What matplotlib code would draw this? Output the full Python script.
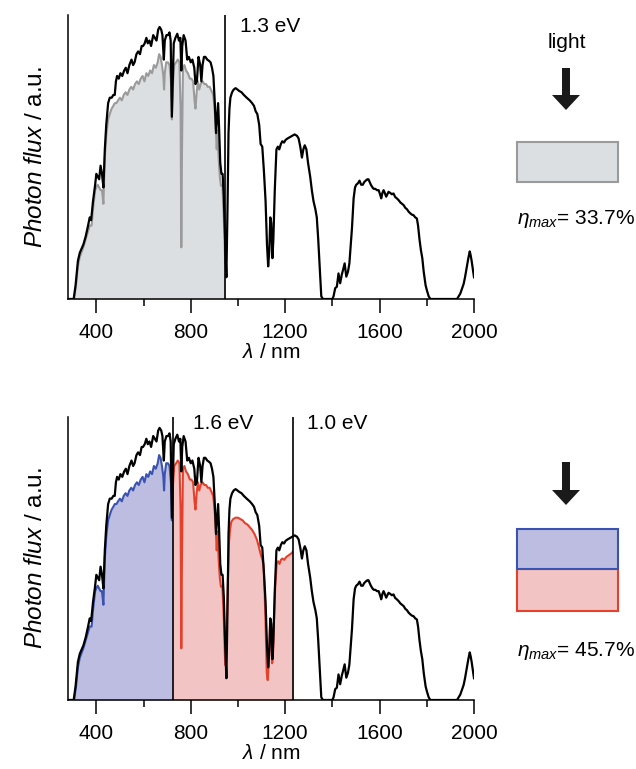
import numpy as np
import matplotlib
matplotlib.use("Agg")
import matplotlib.pyplot as plt
from matplotlib.patches import Rectangle, FancyArrow

plt.rcParams['font.family'] = ['Liberation Sans', 'DejaVu Sans']
plt.rcParams['mathtext.fontset'] = 'custom'
plt.rcParams['mathtext.it'] = 'Liberation Sans:italic'
plt.rcParams['mathtext.rm'] = 'Liberation Sans'

# black: incident photon flux (normalised)
bk_wl = [280, 304, 312, 322, 330, 345, 355, 365, 372, 378, 386, 395, 400, 406, 412, 418, 424, 430,
         436, 442, 450, 457, 465, 472, 478, 483, 488, 495, 502, 510, 518, 525, 532, 540, 549, 556,
         562, 570, 577, 585, 592, 598, 605, 612, 618, 625, 632, 641, 648, 655, 662, 668, 675, 680,
         686, 690, 697, 704, 710, 715, 720, 724, 728, 735, 743, 750, 756, 760, 764, 770, 778, 785,
         792, 800, 807, 815, 820, 826, 833, 840, 845, 850, 856, 862, 870, 878, 884, 890, 896, 902,
         907, 911, 916, 920, 925, 930, 935, 940, 946, 951, 956, 960, 964, 968, 975, 982, 990, 998,
         1005, 1015, 1025, 1037, 1050, 1060, 1068, 1075, 1082, 1090, 1096, 1103, 1110, 1117, 1123,
         1128, 1133, 1137, 1141, 1146, 1150, 1156, 1163, 1169, 1175, 1182, 1188, 1195, 1202, 1210,
         1220, 1230, 1240, 1250, 1257, 1264, 1271, 1277, 1283, 1290, 1297, 1306, 1313, 1320, 1328,
         1334, 1340, 1346, 1353, 1360, 1400, 1405, 1412, 1419, 1426, 1433, 1440, 1445, 1452, 1459,
         1466, 1472, 1478, 1483, 1490, 1496, 1501, 1508, 1515, 1522, 1529, 1535, 1541, 1548, 1553,
         1558, 1563, 1570, 1575, 1582, 1589, 1596, 1602, 1607, 1612, 1617, 1622, 1628, 1633, 1638,
         1645, 1652, 1659, 1666, 1673, 1681, 1688, 1695, 1702, 1709, 1716, 1723, 1730, 1737, 1744,
         1751, 1758, 1763, 1769, 1775, 1781, 1787, 1795, 1801, 1808, 1815, 1928, 1942, 1950, 1956,
         1962, 1970, 1976, 1982, 1986, 1990, 1995, 2000]
bk_val = [0, 0, 0.05, 0.14, 0.17, 0.20, 0.23, 0.27, 0.30, 0.29, 0.36, 0.42, 0.46, 0.45, 0.44, 0.49, 0.46, 0.41,
          0.55, 0.64, 0.72, 0.74, 0.74, 0.75, 0.75, 0.80, 0.82, 0.81, 0.83, 0.82, 0.84, 0.85, 0.83, 0.86, 0.88, 0.86,
          0.87, 0.90, 0.91, 0.90, 0.93, 0.93, 0.94, 0.96, 0.94, 0.95, 0.93, 0.97, 0.96, 0.95, 0.99, 1.00, 0.99, 0.97,
          0.88, 0.95, 0.97, 0.97, 0.98, 0.95, 0.67, 0.80, 0.94, 0.96, 0.975, 0.95, 0.96, 0.84, 0.93, 0.97, 0.95, 0.88,
          0.89, 0.87, 0.88, 0.85, 0.79, 0.80, 0.89, 0.86, 0.80, 0.86, 0.89, 0.89, 0.88, 0.875, 0.87, 0.85, 0.82, 0.72,
          0.61, 0.66, 0.72, 0.63, 0.50, 0.46, 0.46, 0.38, 0.20, 0.08, 0.35, 0.61, 0.70, 0.74, 0.76, 0.77, 0.775, 0.77,
          0.765, 0.76, 0.75, 0.74, 0.73, 0.72, 0.71, 0.69, 0.68, 0.64, 0.57, 0.56, 0.47, 0.36, 0.20,
          0.12, 0.18, 0.30, 0.28, 0.15, 0.22, 0.40, 0.55, 0.56, 0.55, 0.57, 0.58, 0.575, 0.585, 0.59,
          0.595, 0.60, 0.605, 0.60, 0.59, 0.56, 0.52, 0.55, 0.565, 0.55, 0.50, 0.45, 0.40, 0.36, 0.33,
          0.30, 0.22, 0.12, 0.01, 0, 0, 0.01, 0.04, 0.045, 0.094, 0.058, 0.09, 0.106, 0.131, 0.082,
          0.10, 0.13, 0.20, 0.26, 0.37, 0.41, 0.42, 0.425, 0.435, 0.42, 0.42, 0.43, 0.435, 0.44, 0.44,
          0.43, 0.42, 0.41, 0.405, 0.405, 0.40, 0.40, 0.385, 0.37, 0.39, 0.40, 0.39, 0.376, 0.385, 0.394,
          0.39, 0.385, 0.388, 0.375, 0.37, 0.363, 0.355, 0.35, 0.345, 0.335, 0.33, 0.321, 0.315, 0.31, 0.308,
          0.30, 0.296, 0.27, 0.22, 0.18, 0.15, 0.10, 0.05, 0.03, 0.01, 0, 0, 0.02, 0.04, 0.055,
          0.08, 0.12, 0.15, 0.175, 0.16, 0.14, 0.11, 0.08]

# coloured: usable photon flux
col_wl = [280, 306, 314, 322, 330, 345, 355, 365, 372, 380, 386, 395, 400, 406, 412, 418, 424, 430,
          436, 442, 450, 457, 465, 472, 478, 485, 492, 500, 508, 516, 524, 532, 540, 548, 556, 564,
          572, 580, 588, 596, 604, 612, 620, 628, 636, 644, 652, 660, 666, 672, 678, 684, 687, 690,
          696, 703, 710, 716, 720, 724, 730, 738, 745, 752, 757, 760, 763, 767, 773, 780, 788, 796,
          803, 810, 816, 820, 825, 830, 836, 842, 850, 858, 865, 872, 880, 888, 895, 900, 905, 910,
          914, 918, 923, 928, 934, 940, 946, 951, 956, 962, 967, 972, 980, 990, 1000, 1010, 1020,
          1030, 1040, 1050, 1060, 1070, 1080, 1088, 1095, 1102, 1108, 1113, 1118, 1122, 1126, 1131,
          1136, 1141, 1145, 1149, 1153, 1158, 1164, 1170, 1176, 1182, 1188, 1196, 1204, 1212, 1220,
          1228, 1236, 1244]
col_val = [0, 0, 0.05, 0.12, 0.155, 0.19, 0.22, 0.25, 0.27, 0.27, 0.33, 0.40, 0.41, 0.42, 0.41, 0.40, 0.40, 0.35,
           0.52, 0.60, 0.66, 0.68, 0.70, 0.71, 0.72, 0.72, 0.73, 0.74, 0.73, 0.75, 0.76, 0.75, 0.77, 0.78, 0.77, 0.79,
           0.80, 0.79, 0.81, 0.82, 0.80, 0.83, 0.82, 0.84, 0.83, 0.86, 0.85, 0.87, 0.90, 0.89, 0.86, 0.82, 0.77, 0.83,
           0.87, 0.87, 0.86, 0.80, 0.66, 0.78, 0.86, 0.87, 0.88, 0.87, 0.70, 0.19, 0.55, 0.85, 0.86, 0.84, 0.83, 0.81,
           0.81, 0.80, 0.73, 0.70, 0.76, 0.80, 0.77, 0.79, 0.80, 0.79, 0.79, 0.78, 0.78, 0.765, 0.75, 0.71, 0.65, 0.55,
           0.62, 0.52, 0.45, 0.416, 0.42, 0.30, 0.128, 0.20, 0.40, 0.58, 0.63, 0.655, 0.665, 0.67, 0.67, 0.665, 0.66,
           0.65, 0.645, 0.635, 0.625, 0.61, 0.59, 0.565, 0.54, 0.52, 0.50, 0.40, 0.25, 0.10, 0.073, 0.14,
           0.29, 0.24, 0.135, 0.18, 0.30, 0.42, 0.50, 0.51, 0.50, 0.515, 0.52, 0.515, 0.525, 0.53, 0.535,
           0.54, 0.55, 0.55]

edge_single = 946          # 1.3 eV
edges_tandem = [726, 1235]  # 1.6 eV, 1.0 eV
edge_labels_single = ["1.3 eV"]
edge_labels_tandem = ["1.6 eV", "1.0 eV"]
eta = ["33.7%", "45.7%"]
xticks = [400, 800, 1200, 1600, 2000]
xminor = [600, 1000, 1400, 1800]

FS = 15
fig = plt.figure(figsize=(6.36, 7.69), dpi=100)
ax1 = fig.add_axes([68/636, 1-299/769, 406/636, 284/769])
ax2 = fig.add_axes([68/636, 1-700/769, 406/636, 283/769])


def style(ax, ytop):
    ax.set_xlim(280, 2000)
    ax.set_ylim(0, ytop)
    for s in ['top', 'right']:
        ax.spines[s].set_visible(False)
    ax.spines['left'].set_linewidth(1.1)
    ax.spines['bottom'].set_linewidth(1.1)
    ax.set_yticks([])
    ax.set_xticks(xticks)
    ax.set_xticks(xminor, minor=True)
    ax.tick_params(axis='x', which='major', direction='out', length=10, width=1.1, pad=7, labelsize=FS)
    ax.tick_params(axis='x', which='minor', direction='out', length=5, width=1.1)
    ax.set_xlabel(r"$\lambda$ / nm", fontsize=FS, labelpad=1)
    ax.set_ylabel(r"$\it{Photon\ flux}$ / a.u.", fontsize=17.5, labelpad=15)


def coloured(ax, lo, hi, line_c, fill_c):
    clip = Rectangle((lo, 0), hi - lo, 2, transform=ax.transData)
    f = ax.fill_between(col_wl, 0, col_val, color=fill_c, lw=0)
    f.set_clip_path(clip)
    ln, = ax.plot(col_wl, col_val, color=line_c, lw=1.5)
    ln.set_clip_path(clip)


# top panel: single junction
style(ax1, 1.044)
coloured(ax1, 280, edge_single, '#9a9a9a', '#dcdfe2')
ax1.plot(bk_wl, bk_val, color='black', lw=1.6)
ax1.axvline(edge_single, color='black', lw=1.2)
ax1.text(edge_single + 62, 1.0, edge_labels_single[0], fontsize=FS, va='center')

# bottom panel: tandem
style(ax2, 1.04)
coloured(ax2, 280, edges_tandem[0], '#3a53b0', '#bcbde0')
coloured(ax2, edges_tandem[0], edges_tandem[1], '#e5402c', '#f2c4c3')
ax2.plot(bk_wl, bk_val, color='black', lw=1.6)
for e, lab, off in zip(edges_tandem, edge_labels_tandem, [82, 58]):
    ax2.axvline(e, color='black', lw=1.2)
    ax2.text(e + off, 1.015, lab, fontsize=FS, va='center')

# right-hand schematics (pixel coordinates)
ov = fig.add_axes([0, 0, 1, 1])
ov.set_xlim(0, 636)
ov.set_ylim(769, 0)
ov.axis('off')
ov.patch.set_alpha(0)

ov.text(567, 43, "light", fontsize=FS, ha='center', va='center')
for y0, y1 in [(68, 110), (462, 505)]:
    ov.add_patch(FancyArrow(566, y0, 0, y1 - y0, width=8, head_width=28, head_length=15,
                            length_includes_head=True, color='#1a1a1a', lw=0))

ov.add_patch(Rectangle((517, 142), 101, 40, fc='#dcdfe2', ec='#9a9a9a', lw=1.5))
ov.add_patch(Rectangle((517, 569), 101, 42, fc='#f2c4c3', ec='#e5402c', lw=1.5))
ov.add_patch(Rectangle((517, 529), 101, 40, fc='#bcbde0', ec='#3a53b0', lw=1.5))

for y, e in zip([219, 651], eta):
    ov.text(576, y, r"$\eta_{max}$= " + e, fontsize=FS, ha='center', va='center')

fig.savefig("out.png", dpi=100)
